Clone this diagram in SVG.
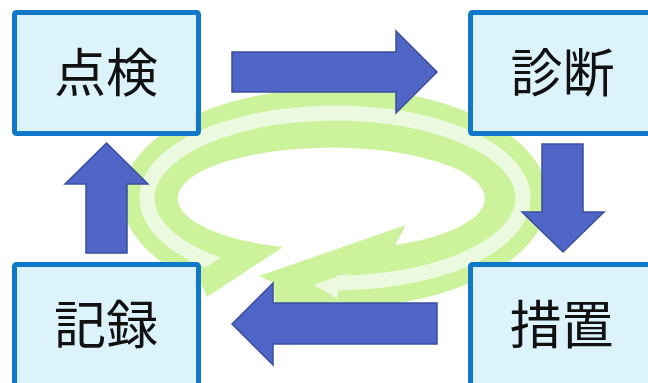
<svg xmlns="http://www.w3.org/2000/svg" width="648" height="383" viewBox="0 0 648 383">
  <style>
    .box { fill: #dcf3fc; stroke: #0f78c9; stroke-width: 5; }
    .lbl { font-family: "Noto Sans CJK JP", "Noto Sans", sans-serif; font-size: 52px; fill: #111111; text-anchor: middle; }
    .arrow { fill: #4f66c6; stroke: #3a4f9e; stroke-width: 1.5; stroke-linejoin: miter; }
    .band { fill: #ccf29b; }
    .stripe { fill: none; stroke: #ebf9de; stroke-width: 15; }
  </style>

  <g id="cycle">
    <path class="band" d="M207 297 L283 247 A153.5 51 0 1 1 395 245 L406 225 L259 276 L273.5 282.8 L276 318 L320 318 L330 308 A213 110 0 1 0 201 283.5 Z"/>
    <path class="stripe" d="M228 267.9 A188 85 0 1 1 336 283"/>
    <polygon class="band" points="226,254 199,272 224,283 238,262"/>
    <polygon fill="#ebf9de" points="314,285 347,273 344,276 338,290.5 337,298.5"/>
  </g>

  <g id="node-tenken">
    <rect class="box" x="14.5" y="12.5" width="184" height="121" rx="2"/>
    <text class="lbl" x="106" y="92">点検</text>
  </g>
  <g id="node-shindan">
    <rect class="box" x="470.5" y="12.5" width="184" height="121" rx="2"/>
    <text class="lbl" x="562.5" y="92">診断</text>
  </g>
  <g id="node-sochi">
    <rect class="box" x="470.5" y="264.5" width="184" height="121" rx="2"/>
    <text class="lbl" x="561.5" y="344">措置</text>
  </g>
  <g id="node-kiroku">
    <rect class="box" x="14.5" y="264.5" width="184" height="121" rx="2"/>
    <text class="lbl" x="106" y="343.5">記録</text>
  </g>

  <g id="connectors">
    <path class="arrow" d="M232 52 H396 V31 L437 72 L396 113 V92 H232 Z"/>
    <path class="arrow" d="M542 144 H583 V212 H604 L563 252 L522 212 H542 Z"/>
    <path class="arrow" d="M437 303 V344 H273 V365 L232 324 L273 283 V303 Z"/>
    <path class="arrow" d="M86 253 V184 H65 L106.5 143 L148 184 H127 V253 Z"/>
  </g>
</svg>
